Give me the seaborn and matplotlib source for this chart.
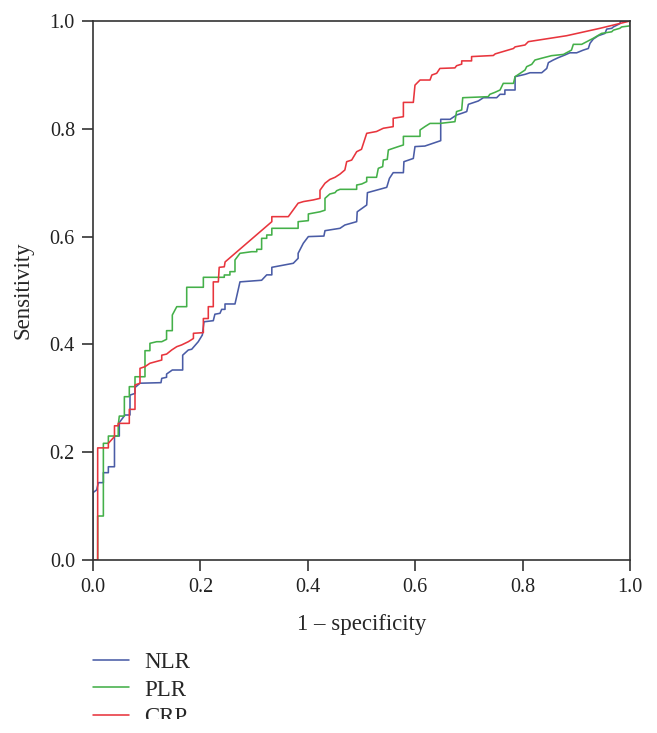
import matplotlib
matplotlib.use("Agg")
import matplotlib.pyplot as plt
from matplotlib.patches import Rectangle
import seaborn as sns
import pandas as pd

# ---- data ----
series_names = ["NLR", "PLR", "CRP"]

nlr_points = [
    (0, 0), (0, 0.125), (0.0068, 0.130), (0.010, 0.1435), (0.0193, 0.1435), (0.0193, 0.162),
    (0.0286, 0.162), (0.0286, 0.173), (0.040, 0.173), (0.040, 0.230), (0.049, 0.230),
    (0.049, 0.255), (0.0596, 0.269), (0.0689, 0.269), (0.0689, 0.306), (0.0782, 0.309),
    (0.0782, 0.320), (0.0875, 0.328), (0.1266, 0.329), (0.128, 0.337), (0.137, 0.339),
    (0.137, 0.345), (0.1477, 0.3525), (0.167, 0.3525), (0.167, 0.380), (0.1775, 0.3896),
    (0.1838, 0.391), (0.196, 0.405), (0.2036, 0.4174), (0.2067, 0.442), (0.224, 0.444),
    (0.227, 0.456), (0.2365, 0.4577), (0.2396, 0.465), (0.2458, 0.465), (0.2458, 0.475),
    (0.2644, 0.475), (0.2737, 0.516), (0.314, 0.519), (0.3235, 0.529), (0.333, 0.529),
    (0.333, 0.543), (0.373, 0.5505), (0.382, 0.5597), (0.382, 0.569), (0.3916, 0.5876),
    (0.401, 0.600), (0.430, 0.601), (0.432, 0.611), (0.46, 0.6154), (0.469, 0.6215),
    (0.491, 0.6277), (0.492, 0.646), (0.5097, 0.6586), (0.511, 0.6815), (0.547, 0.6914),
    (0.552, 0.708), (0.559, 0.7186), (0.578, 0.7186), (0.579, 0.739), (0.5965, 0.745),
    (0.5996, 0.767), (0.618, 0.768), (0.6475, 0.778), (0.6475, 0.8176), (0.665, 0.8176),
    (0.677, 0.8256), (0.6866, 0.8287), (0.696, 0.832), (0.699, 0.8454), (0.7175, 0.8516),
    (0.727, 0.8577), (0.7517, 0.8577), (0.758, 0.864), (0.767, 0.864), (0.767, 0.872),
    (0.786, 0.872), (0.786, 0.8967), (0.8045, 0.901), (0.8138, 0.904), (0.8356, 0.904),
    (0.845, 0.912), (0.848, 0.9227), (0.857, 0.9276), (0.8665, 0.932), (0.879, 0.937),
    (0.888, 0.941), (0.9007, 0.941), (0.913, 0.946), (0.9224, 0.949), (0.9255, 0.9586),
    (0.9317, 0.9666), (0.941, 0.9727), (0.9534, 0.977), (0.9566, 0.985), (0.966, 0.9864),
    (0.969, 0.989), (0.981, 0.995), (0.9826, 1.0), (1.0, 1.0),
]

plr_points = [
    (0, 0), (0.0087, 0), (0.0087, 0.0816), (0.0193, 0.0816), (0.0193, 0.2165), (0.0286, 0.2165),
    (0.0286, 0.230), (0.047, 0.230), (0.047, 0.2505), (0.049, 0.267), (0.0584, 0.267),
    (0.0584, 0.303), (0.0676, 0.303), (0.0676, 0.3216), (0.0782, 0.3216), (0.0782, 0.340),
    (0.0968, 0.340), (0.0968, 0.3884), (0.106, 0.3884), (0.106, 0.402), (0.1186, 0.405),
    (0.128, 0.405), (0.137, 0.4094), (0.137, 0.4255), (0.1477, 0.4255), (0.1477, 0.4545),
    (0.156, 0.470), (0.1745, 0.470), (0.1745, 0.506), (0.2055, 0.506), (0.2055, 0.5245),
    (0.2445, 0.5245), (0.2445, 0.5288), (0.255, 0.5288), (0.255, 0.535), (0.2644, 0.535),
    (0.2644, 0.5566), (0.2737, 0.569), (0.2955, 0.572), (0.305, 0.572), (0.305, 0.5764),
    (0.314, 0.5764), (0.314, 0.5968), (0.3235, 0.5968), (0.3235, 0.603), (0.333, 0.603),
    (0.333, 0.6154), (0.382, 0.6154), (0.382, 0.6277), (0.401, 0.6296), (0.401, 0.642),
    (0.4227, 0.646), (0.432, 0.649), (0.432, 0.671), (0.441, 0.679), (0.4507, 0.6815),
    (0.4538, 0.6852), (0.46, 0.6877), (0.491, 0.6877), (0.491, 0.6957), (0.5004, 0.6976),
    (0.5097, 0.702), (0.5097, 0.710), (0.528, 0.710), (0.5313, 0.7267), (0.5394, 0.7298),
    (0.5406, 0.742), (0.548, 0.7434), (0.550, 0.7607), (0.559, 0.7638), (0.5686, 0.767),
    (0.578, 0.770), (0.578, 0.786), (0.609, 0.786), (0.609, 0.7978), (0.618, 0.804),
    (0.6276, 0.810), (0.646, 0.810), (0.674, 0.8132), (0.677, 0.832), (0.6866, 0.835),
    (0.6885, 0.8577), (0.736, 0.8596), (0.739, 0.864), (0.7486, 0.8677), (0.758, 0.872),
    (0.764, 0.8843), (0.783, 0.8843), (0.786, 0.8967), (0.8045, 0.909), (0.8076, 0.9153),
    (0.817, 0.9196), (0.823, 0.9276), (0.8356, 0.931), (0.854, 0.9357), (0.876, 0.938),
    (0.891, 0.946), (0.8945, 0.9567), (0.910, 0.9567), (0.9317, 0.968), (0.947, 0.977),
    (0.966, 0.980), (0.969, 0.983), (0.981, 0.9864), (0.9845, 0.989), (1.0, 0.991), (1.0, 1.0),
]

crp_points = [
    (0, 0), (0.0087, 0), (0.0087, 0.208), (0.0286, 0.208), (0.0286, 0.2165), (0.040, 0.229),
    (0.040, 0.249), (0.047, 0.249), (0.047, 0.2535), (0.0676, 0.2535), (0.0676, 0.2795),
    (0.0782, 0.2795), (0.0782, 0.3247), (0.0875, 0.328), (0.0875, 0.3556), (0.0968, 0.3587),
    (0.106, 0.365), (0.128, 0.371), (0.128, 0.380), (0.137, 0.382), (0.1465, 0.3896),
    (0.156, 0.3958), (0.165, 0.399), (0.1775, 0.405), (0.187, 0.411), (0.187, 0.4206),
    (0.2055, 0.4218), (0.2055, 0.448), (0.2147, 0.448), (0.2147, 0.470), (0.224, 0.470),
    (0.224, 0.516), (0.2334, 0.516), (0.235, 0.543), (0.2445, 0.544), (0.246, 0.553),
    (0.333, 0.6277), (0.333, 0.637), (0.3637, 0.637), (0.382, 0.662), (0.392, 0.665),
    (0.410, 0.668), (0.4227, 0.671), (0.4227, 0.686), (0.432, 0.699), (0.441, 0.706),
    (0.4507, 0.710), (0.46, 0.716), (0.469, 0.7236), (0.4724, 0.739), (0.4817, 0.742),
    (0.491, 0.7575), (0.500, 0.762), (0.5097, 0.7916), (0.528, 0.795), (0.5406, 0.801),
    (0.559, 0.804), (0.559, 0.8195), (0.578, 0.8225), (0.578, 0.849), (0.5965, 0.849),
    (0.5996, 0.881), (0.609, 0.8905), (0.6276, 0.8905), (0.631, 0.8998), (0.640, 0.903),
    (0.646, 0.912), (0.674, 0.913), (0.677, 0.917), (0.6866, 0.920), (0.6866, 0.926),
    (0.705, 0.926), (0.705, 0.934), (0.7455, 0.936), (0.749, 0.939), (0.783, 0.949),
    (0.786, 0.952), (0.8045, 0.9555), (0.8107, 0.9617), (0.882, 0.9727), (0.944, 0.9864),
    (1.0, 1.0),
]

x_ticks = [0.0, 0.2, 0.4, 0.6, 0.8, 1.0]
y_ticks = [0.0, 0.2, 0.4, 0.6, 0.8, 1.0]
x_label = "1 \u2013 specificity"
y_label = "Sensitivity"

# ---- build long table ----
rows = []
for name, pts in zip(series_names, [nlr_points, plr_points, crp_points]):
    for i, (fx, ty) in enumerate(pts):
        rows.append({"fpr": fx, "tpr": ty, "marker": name, "order": i})
df = pd.DataFrame(rows)

palette = {"NLR": "#4a5ca6", "PLR": "#44b049", "CRP": "#e8353d"}

sns.set_style("ticks")
plt.rcParams["font.family"] = ["Liberation Serif", "DejaVu Serif"]

fig = plt.figure(figsize=(6.57, 7.33), dpi=100)
ax = fig.add_axes([93 / 657, (733 - 560) / 733, (630 - 93) / 657, (560 - 21) / 733])

sns.lineplot(data=df, x="fpr", y="tpr", hue="marker", hue_order=series_names,
             palette=palette, sort=False, estimator=None, units="marker",
             linewidth=1.15, ax=ax, legend=True)

ax.set_xlim(0, 1)
ax.set_ylim(0, 1)
ax.set_xticks(x_ticks)
ax.set_yticks(y_ticks)
ax.set_xticklabels([f"{t:.1f}" for t in x_ticks])
ax.set_yticklabels([f"{t:.1f}" for t in y_ticks])
ax.set_xlabel(x_label, fontsize=16.5, labelpad=12)
ax.set_ylabel(y_label, fontsize=16.5, labelpad=12)

for side in ["left", "bottom", "top", "right"]:
    ax.spines[side].set_visible(True)
    ax.spines[side].set_color("#333333")
    ax.spines[side].set_linewidth(1.2)
ax.tick_params(axis="both", direction="out", length=8, width=1.2, color="#333333",
               labelsize=14.5, pad=5, labelcolor="#222222")
ax.tick_params(top=False, right=False)

handles, labels = ax.get_legend_handles_labels()
ax.legend(handles, labels, loc="upper left", bbox_to_anchor=(93 / 657, (733 - 652) / 733),
          bbox_transform=fig.transFigure, frameon=False, fontsize=16.5,
          handlelength=1.55, handletextpad=0.7, labelspacing=0.28,
          borderpad=0, borderaxespad=0)

# the reference image is cropped just below the last legend row
fig.patches.append(Rectangle((0, 0), 1, (733 - 719) / 733, transform=fig.transFigure,
                             facecolor="white", edgecolor="none", zorder=20))

fig.savefig("out.png", dpi=100)
